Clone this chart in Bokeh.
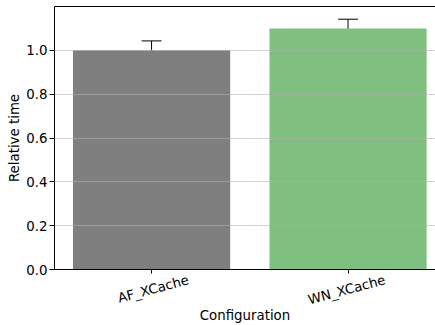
import math
from bokeh.plotting import figure
from bokeh.models import (ColumnDataSource, Whisker, TeeHead, FixedTicker, LinearAxis, Range1d,
                          PrintfTickFormatter)
from bokeh.embed import file_html
from bokeh.resources import INLINE

configs = ["AF_XCache", "WN_XCache"]
rel_time = [1.0, 1.1]
rel_err = [0.043, 0.042]
bar_colors = ["#7f7f7f", "#7fbf7f"]
y_ticks = [0.0, 0.2, 0.4, 0.6, 0.8, 1.0]

xs = list(range(len(configs)))
lower = [v - e for v, e in zip(rel_time, rel_err)]
upper = [v + e for v, e in zip(rel_time, rel_err)]
src = ColumnDataSource(dict(x=xs, top=rel_time, color=bar_colors, lower=lower, upper=upper))

FONT = "DejaVu Sans"
FS = "13.33px"

W, H = 435, 325
LEFT, TOP, BOTTOM = 54, 6, 55
X0, X1 = -0.494, 1.445
p = figure(width=W, height=H, output_backend="svg", toolbar_location=None,
           x_range=Range1d(X0, X1), y_range=Range1d(0, 1.2),
           min_border_left=LEFT, min_border_right=0, min_border_top=TOP, min_border_bottom=BOTTOM)
p.outline_line_color = None
p.background_fill_color = "white"
p.border_fill_color = "white"

p.vbar(x="x", top="top", width=0.8, color="color", line_color=None, source=src)

w = Whisker(source=src, base="x", upper="upper", lower="lower", line_color="black", line_width=1,
            upper_head=TeeHead(size=20, line_color="black", line_width=1),
            lower_head=TeeHead(size=20, line_color="black", line_width=1))
p.add_layout(w)

p.xgrid.visible = False
p.ygrid.ticker = FixedTicker(ticks=y_ticks)
p.ygrid.grid_line_color = "#b0b0b0"
p.ygrid.grid_line_alpha = 0.6
p.ygrid.grid_line_width = 1.2
p.ygrid.level = "guide"

def style_text(ax):
    ax.major_label_text_font = FONT
    ax.major_label_text_font_size = FS
    ax.major_label_text_color = "black"
    ax.axis_label_text_font = FONT
    ax.axis_label_text_font_size = FS
    ax.axis_label_text_font_style = "normal"
    ax.axis_label_text_color = "black"

# y axis
ya = p.yaxis[0]
style_text(ya)
ya.ticker = FixedTicker(ticks=y_ticks)
ya.formatter = PrintfTickFormatter(format="%.1f")
ya.axis_line_color = "black"
ya.major_tick_line_color = "black"
ya.major_tick_out = 5
ya.major_tick_in = 0
ya.minor_tick_line_color = None
ya.major_label_standoff = 2
ya.axis_label = "Relative time"
ya.axis_label_standoff = 1

# x axis: spine + category ticks (drawn as unlabelled minor ticks)
xa = p.xaxis[0]
xa.ticker = FixedTicker(ticks=[], minor_ticks=xs)
xa.axis_line_color = "black"
xa.major_tick_line_color = None
xa.minor_tick_line_color = "black"
xa.minor_tick_out = 4
xa.minor_tick_in = 0
xa.major_label_standoff = 0
xa.axis_label_standoff = 0

# category labels: rotated 15 deg and centred under the ticks.  Bokeh anchors
# rotated labels at their right end, so the label axis uses a range shifted by
# half the rotated label width.
px_per_unit = (W - LEFT) / (X1 - X0)
half_label_px = 37.0
shift = half_label_px / px_per_unit
p.extra_x_ranges = {"lab": Range1d(X0 - shift, X1 - shift)}
la = LinearAxis(x_range_name="lab", ticker=FixedTicker(ticks=xs),
                major_label_overrides={i: c for i, c in zip(xs, configs)},
                major_label_orientation=math.radians(15),
                axis_line_color=None, major_tick_line_color=None, minor_tick_line_color=None,
                major_tick_out=0, major_tick_in=0, major_label_standoff=6,
                axis_label="Configuration", axis_label_standoff=-10)
style_text(la)
p.add_layout(la, "below")

# top spine
top_axis = LinearAxis(ticker=FixedTicker(ticks=[]),
                      axis_line_color="black", axis_line_width=1,
                      major_tick_line_color=None, minor_tick_line_color=None)
p.add_layout(top_axis, "above")

open("out.html", "w").write(file_html(p, INLINE))
